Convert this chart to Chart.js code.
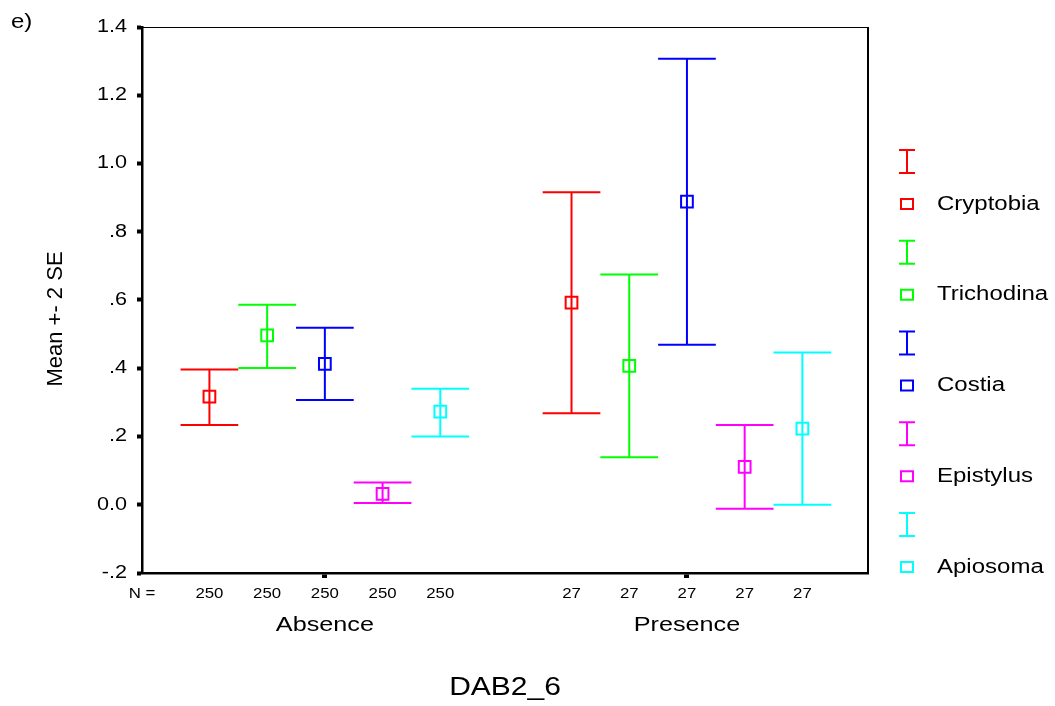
<!DOCTYPE html>
<html><head><meta charset="utf-8">
<script src="https://cdn.jsdelivr.net/npm/chart.js@4.4.1/dist/chart.umd.min.js"></script>
<style>html,body{margin:0;padding:0;background:#fff;}canvas{display:block;}</style>
</head><body>
<canvas id="c" width="1055" height="706"></canvas>
<script>
// ---------------- data ----------------
const categories = ['Absence', 'Presence'];
const seriesNames = ['Cryptobia', 'Trichodina', 'Costia', 'Epistylus', 'Apiosoma'];
const seriesColors = ['#ff0000', '#00ff00', '#0000ff', '#ff00ff', '#00ffff'];
const groupN = [250, 27];

const cryptobiaMean  = [0.317, 0.592];
const trichodinaMean = [0.496, 0.407];
const costiaMean     = [0.413, 0.888];
const epistylusMean  = [0.032, 0.111];
const apiosomaMean   = [0.273, 0.223];

const cryptobiaUpper  = [0.396, 0.916];
const trichodinaUpper = [0.586, 0.675];
const costiaUpper     = [0.519, 1.307];
const epistylusUpper  = [0.065, 0.234];
const apiosomaUpper   = [0.340, 0.446];

const cryptobiaLower  = [0.234, 0.268];
const trichodinaLower = [0.401, 0.139];
const costiaLower     = [0.307, 0.469];
const epistylusLower  = [0.005, -0.012];
const apiosomaLower   = [0.200, 0.000];

const yTickValues = [-0.2, 0, 0.2, 0.4, 0.6, 0.8, 1.0, 1.2, 1.4];
const yTickLabels = ['-.2', '0.0', '.2', '.4', '.6', '.8', '1.0', '1.2', '1.4'];
const nAxisLead = 'N =';
const yTitle = 'Mean +- 2 SE';
const xTitle = 'DAB2_6';
const panelLabel = 'e)';

// ---------------- layout constants ----------------
const SLOT = 0.1594;
const X_MIN = -0.505, X_MAX = 1.5;
const FONT = "'Liberation Sans', Arial, sans-serif";
const SX = 1.2; // horizontal text widening

const means  = [cryptobiaMean, trichodinaMean, costiaMean, epistylusMean, apiosomaMean];
const uppers = [cryptobiaUpper, trichodinaUpper, costiaUpper, epistylusUpper, apiosomaUpper];
const lowers = [cryptobiaLower, trichodinaLower, costiaLower, epistylusLower, apiosomaLower];
const xPos = (g, s) => g + (s - 2) * SLOT;

// x tick list for N labels
const nTickValues = [X_MIN];
const nTickLabels = [nAxisLead];
categories.forEach((c, g) => seriesNames.forEach((n, s) => {
  nTickValues.push(xPos(g, s)); nTickLabels.push(String(groupN[g]));
}));
const centerTickIdx = new Set();
categories.forEach((c, g) => centerTickIdx.add(1 + g * seriesNames.length + 2));

// ---------------- canvas text widening ----------------
const canvas = document.getElementById('c');
const ctx = canvas.getContext('2d');
const rawFill = ctx.fillText.bind(ctx);
ctx.fillText = function (text, x, y, maxWidth) {
  const m = ctx.getTransform();
  const p = m.transformPoint(new DOMPoint(x, y));
  ctx.save();
  ctx.setTransform(new DOMMatrix().translate(p.x, p.y).scale(SX, 1).translate(-p.x, -p.y).multiply(m));
  if (maxWidth !== undefined) rawFill(text, x, y, maxWidth); else rawFill(text, x, y);
  ctx.restore();
};

Chart.defaults.color = '#000';
Chart.defaults.font.family = FONT;

const datasets = seriesNames.map((name, s) => ({
  label: name,
  data: categories.map((c, g) => ({ x: xPos(g, s), y: means[s][g] })),
  xAxisID: 'x', yAxisID: 'y',
  pointStyle: 'rect',
  pointRadius: 8.3,
  pointHoverRadius: 8.3,
  borderColor: seriesColors[s],
  backgroundColor: 'rgba(0,0,0,0)',
  pointBorderWidth: 2,
  showLine: false
}));

const decor = {
  id: 'decor',
  beforeDraw(chart) {
    const c = chart.ctx;
    c.save(); c.fillStyle = '#fff'; c.fillRect(0, 0, chart.width, chart.height); c.restore();
  },
  beforeDatasetsDraw(chart) {
    const c = chart.ctx, xs = chart.scales.x, ys = chart.scales.y;
    c.save();
    c.lineWidth = 2; c.lineCap = 'butt';
    seriesNames.forEach((n, s) => {
      c.strokeStyle = seriesColors[s];
      categories.forEach((cat, g) => {
        const xc = xs.getPixelForValue(xPos(g, s));
        const xl = xs.getPixelForValue(xPos(g, s) - SLOT / 2);
        const xr = xs.getPixelForValue(xPos(g, s) + SLOT / 2);
        const yu = ys.getPixelForValue(uppers[s][g]);
        const yl = ys.getPixelForValue(lowers[s][g]);
        c.beginPath();
        c.moveTo(xc, yu); c.lineTo(xc, yl);
        c.moveTo(xl, yu); c.lineTo(xr, yu);
        c.moveTo(xl, yl); c.lineTo(xr, yl);
        c.stroke();
      });
    });
    c.restore();
  },
  afterDraw(chart) {
    const c = chart.ctx, a = chart.chartArea;
    c.save();
    // frame: top and right
    c.strokeStyle = '#000';
    c.lineWidth = 1.2;
    c.beginPath(); c.moveTo(a.left, a.top + 0.5); c.lineTo(a.right, a.top + 0.5); c.stroke();
    c.lineWidth = 2;
    c.beginPath(); c.moveTo(a.right, a.top); c.lineTo(a.right, a.bottom); c.stroke();

    // y title (not widened)
    c.fillStyle = '#000';
    c.save();
    c.translate(56, 319); c.rotate(-Math.PI / 2);
    c.font = '22px ' + FONT; c.textAlign = 'center'; c.textBaseline = 'middle';
    rawFill(yTitle, 0, 0);
    c.restore();

    // panel label
    c.font = '20px ' + FONT; c.textAlign = 'left'; c.textBaseline = 'middle';
    c.fillText(panelLabel, 11, 22);

    // legend
    const lx = 907, top0 = 161.5, step = 90.75;
    seriesNames.forEach((n, s) => {
      const cy = top0 + s * step;
      c.strokeStyle = seriesColors[s]; c.lineWidth = 2;
      c.beginPath();
      c.moveTo(lx, cy - 11.5); c.lineTo(lx, cy + 11.5);
      c.moveTo(lx - 8, cy - 11.5); c.lineTo(lx + 8, cy - 11.5);
      c.moveTo(lx - 8, cy + 11.5); c.lineTo(lx + 8, cy + 11.5);
      c.stroke();
      const sy = cy + 42.5;
      c.strokeRect(lx - 6, sy - 5, 12, 10);
      c.fillStyle = '#000';
      c.font = '20px ' + FONT; c.textAlign = 'left'; c.textBaseline = 'middle';
      c.fillText(n, 937, sy);
    });
    c.restore();
  }
};

new Chart(ctx, {
  type: 'scatter',
  data: { datasets },
  options: {
    responsive: false,
    animation: false,
    events: [],
    layout: { padding: { left: 0, right: 187, top: 27, bottom: 0 } },
    plugins: { legend: { display: false }, tooltip: { enabled: false } },
    scales: {
      y: {
        type: 'linear', position: 'left',
        min: -0.2, max: 1.4,
        afterBuildTicks: s => { s.ticks = yTickValues.map(v => ({ value: v })); },
        afterFit: s => { s.width = 142; },
        ticks: { callback: (v, i) => yTickLabels[i], font: { size: 18, family: FONT }, padding: 10, color: '#000' },
        grid: { drawOnChartArea: false, drawTicks: true, tickLength: 5, tickWidth: 4, tickColor: '#000' },
        border: { display: true, color: '#000', width: 2.5 },
        title: { display: false }
      },
      x: {
        type: 'linear', position: 'bottom', weight: 0,
        min: X_MIN, max: X_MAX,
        afterBuildTicks: s => { s.ticks = nTickValues.map(v => ({ value: v })); },
        afterFit: s => { s.height = 40; },
        ticks: { callback: (v, i) => nTickLabels[i], font: { size: 14, family: FONT }, padding: 8,
                 autoSkip: false, maxRotation: 0, minRotation: 0, color: '#000' },
        grid: { drawOnChartArea: false, drawTicks: true, tickLength: 5,
                tickWidth: 5,
                tickColor: c => centerTickIdx.has(c.index) ? '#000' : 'rgba(0,0,0,0)' },
        border: { display: true, color: '#000', width: 2.5 }
      },
      x2: {
        type: 'linear', position: 'bottom', weight: 1,
        min: X_MIN, max: X_MAX,
        afterBuildTicks: s => { s.ticks = categories.map((c, g) => ({ value: g })); },
        afterFit: s => { s.height = 93; },
        ticks: { callback: (v, i) => categories[i], font: { size: 21, family: FONT }, padding: 0,
                 autoSkip: false, maxRotation: 0, minRotation: 0, color: '#000' },
        grid: { display: false, drawTicks: false },
        border: { display: false },
        title: { display: true, text: xTitle, font: { size: 25, family: FONT }, color: '#000',
                 padding: { top: 0, bottom: 3 } }
      }
    }
  },
  plugins: [decor]
});
</script>
</body></html>
